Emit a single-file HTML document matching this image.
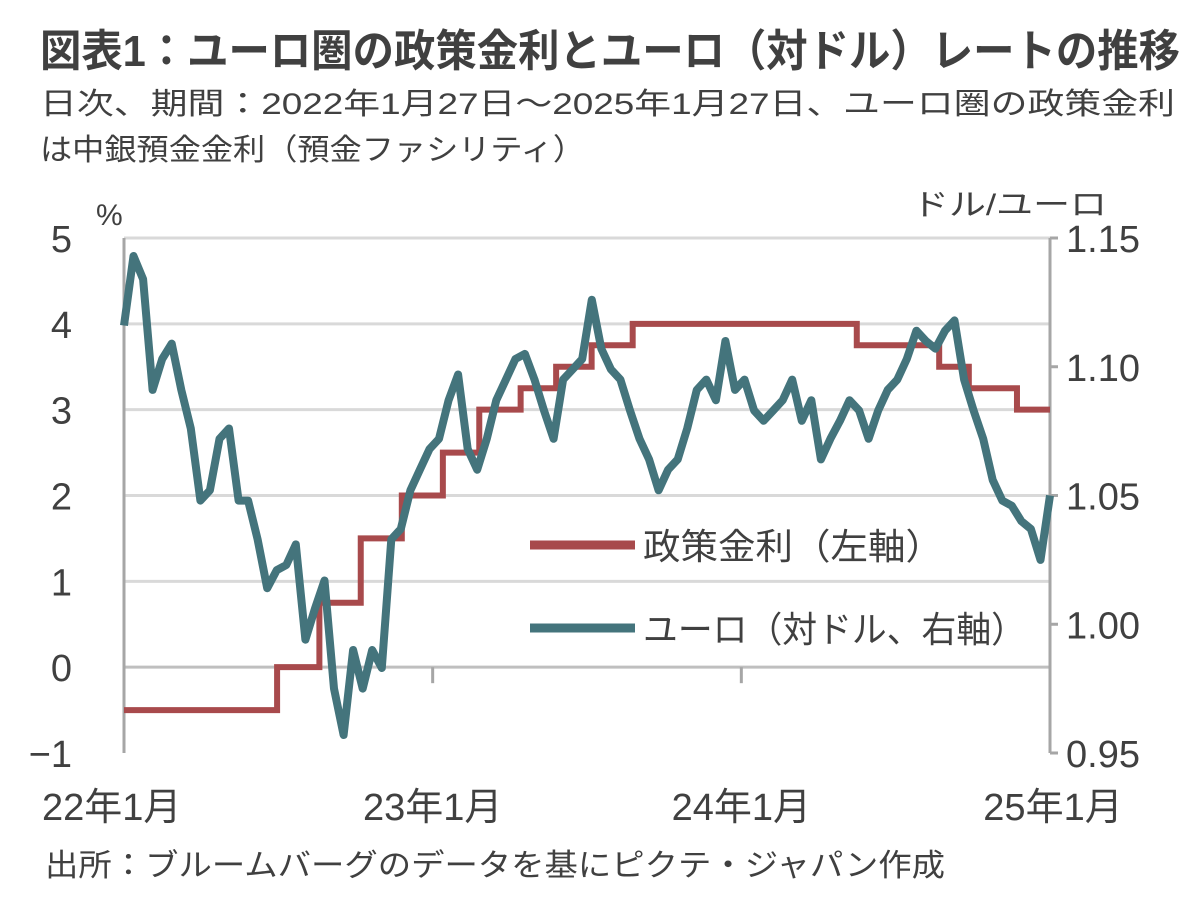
<!DOCTYPE html>
<html><head><meta charset="utf-8"><style>
html,body{margin:0;padding:0;background:#fff;}
svg text{font-family:"Liberation Sans","Noto Sans CJK JP",sans-serif;fill:#404040;}
</style></head><body>
<svg id="chart" width="1200" height="915" viewBox="0 0 1200 915" xmlns="http://www.w3.org/2000/svg">
<text x="40" y="66" font-size="44" font-weight="bold" textLength="1140" lengthAdjust="spacingAndGlyphs">図表1：ユーロ圏の政策金利とユーロ（対ドル）レートの推移</text>
<text x="40" y="114" font-size="30" textLength="1135" lengthAdjust="spacingAndGlyphs">日次、期間：2022年1月27日～2025年1月27日、ユーロ圏の政策金利</text>
<text x="40" y="160" font-size="30" textLength="545" lengthAdjust="spacingAndGlyphs">は中銀預金金利（預金ファシリティ）</text>
<text x="96" y="225" font-size="30">%</text>
<text x="912" y="215" font-size="30" textLength="195" lengthAdjust="spacingAndGlyphs">ドル/ユーロ</text>
<g id="grid"></g>
<g id="axes"></g>
<g id="series"></g>
<g>
<line x1="530" y1="545" x2="635" y2="545" stroke="#A84A4C" stroke-width="9"/>
<text x="643" y="559" font-size="36" textLength="300" lengthAdjust="spacingAndGlyphs">政策金利（左軸）</text>
<line x1="530" y1="628" x2="635" y2="628" stroke="#44747C" stroke-width="9"/>
<text x="643" y="642" font-size="36" textLength="383" lengthAdjust="spacingAndGlyphs">ユーロ（対ドル、右軸）</text>
</g>
<text x="45" y="876" font-size="31" textLength="900" lengthAdjust="spacingAndGlyphs">出所：ブルームバーグのデータを基にピクテ・ジャパン作成</text>
</svg>
<script>
const leftTicks=[5,4,3,2,1,0,-1];
const rightTicks=["1.15","1.10","1.05","1.00","0.95"];
const xTickLabels=["22年1月","23年1月","24年1月","25年1月"];
// policy rate: [years since 2022-01-27, rate]
const rateDates=[0,0.496,0.633,0.767,0.9,1.033,1.151,1.285,1.4,1.515,1.648,2.374,2.641,2.737,2.893,3];
const rateValues=[-0.5,0,0.75,1.5,2.0,2.5,3.0,3.25,3.5,3.75,4.0,3.75,3.5,3.25,3.0,3.0];
// EUR/USD sampled evenly over 3 years
const fxValues=[1.116,1.143,1.134,1.091,1.103,1.109,1.091,1.076,1.048,1.052,1.072,1.076,1.048,1.048,1.033,1.014,1.021,1.023,1.031,0.994,1.006,1.017,0.975,0.957,0.990,0.975,0.990,0.983,1.033,1.037,1.052,1.060,1.068,1.072,1.087,1.097,1.068,1.060,1.072,1.087,1.095,1.103,1.105,1.095,1.083,1.072,1.095,1.099,1.103,1.126,1.107,1.099,1.095,1.083,1.072,1.064,1.052,1.060,1.064,1.076,1.091,1.095,1.087,1.110,1.091,1.095,1.083,1.079,1.083,1.087,1.095,1.079,1.087,1.064,1.072,1.079,1.087,1.083,1.072,1.083,1.091,1.095,1.103,1.114,1.110,1.107,1.114,1.118,1.095,1.083,1.072,1.056,1.048,1.046,1.040,1.037,1.025,1.050];
const NS="http://www.w3.org/2000/svg";
const X0=124,X1=1050,YT=238,YB=753;
const xS=t=>X0+(X1-X0)*t/3;
const yL=v=>YT+(5-v)*(YB-YT)/6;
const yR=v=>YT+(1.15-v)*(YB-YT)/0.2;
function mk(tag,attrs,parent){const e=document.createElementNS(NS,tag);for(const k in attrs)e.setAttribute(k,attrs[k]);parent.appendChild(e);return e;}
const grid=document.getElementById('grid'),axes=document.getElementById('axes'),series=document.getElementById('series');
leftTicks.forEach(v=>{
 if(v!==-1){const g=mk('line',{x1:X0,x2:X1,y1:yL(v),y2:yL(v),stroke:v===0?'#bfbfbf':'#d9d9d9','stroke-width':3},grid);
 
 }
 const t=mk('text',{x:72,y:yL(v)+14,'font-size':38,'text-anchor':'end'},axes);t.textContent=v===-1?'−1':String(v);
 
 
});
rightTicks.forEach(s=>{
 const v=parseFloat(s);
 const t=mk('text',{x:1066,y:yR(v)+14,'font-size':38},axes);t.textContent=s;
 
 
 const tk=mk('line',{x1:X1,x2:X1+8,y1:yR(v),y2:yR(v),stroke:'#a6a6a6','stroke-width':3},axes);
 
 
});
const la=mk('line',{x1:X0,x2:X0,y1:YT,y2:YB,stroke:'#a6a6a6','stroke-width':3},axes);


const ra=mk('line',{x1:X1,x2:X1,y1:YT,y2:YB,stroke:'#a6a6a6','stroke-width':3},axes);


xTickLabels.forEach((s,i)=>{
 const t=mk('text',{x:i===0?42:xS(i)+(i===3?3:0),y:820,'font-size':38,'text-anchor':i===0?'start':'middle'},axes);t.textContent=s;
 
 
 if(i>0&&i<3){const tk=mk('line',{x1:xS(i),x2:xS(i),y1:yL(0),y2:yL(0)+16,stroke:'#a6a6a6','stroke-width':3},axes);
 
 }
});
let d='';
rateDates.forEach((t,i)=>{
 const x=xS(t),y=yL(rateValues[i]);
 if(i===0)d+='M'+x+','+y;else d+=' H'+x+' V'+y;
});
const rp=mk('path',{d:d,fill:'none',stroke:'#A84A4C','stroke-width':6},series);


const n=fxValues.length;
const fd=fxValues.map((v,i)=>(i?'L':'M')+xS(3*i/(n-1)).toFixed(1)+','+yR(v).toFixed(1)).join(' ');
const fp=mk('path',{d:fd,fill:'none',stroke:'#44747C','stroke-width':8,'stroke-linejoin':'round'},series);


</script>
</body></html>
